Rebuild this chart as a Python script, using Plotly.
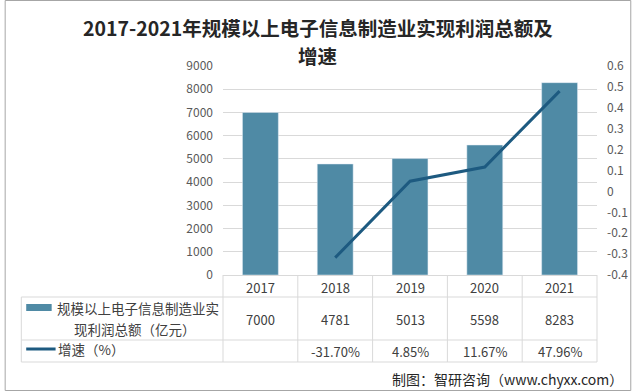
import plotly.graph_objects as go

years = ["2017", "2018", "2019", "2020", "2021"]
profit = [7000, 4781, 5013, 5598, 8283]
growth = [None, -0.317, 0.0485, 0.1167, 0.4796]
growth_labels = ["", "-31.70%", "4.85%", "11.67%", "47.96%"]
left_ticks = [0, 1000, 2000, 3000, 4000, 5000, 6000, 7000, 8000, 9000]
right_ticks = [-0.4, -0.3, -0.2, -0.1, 0, 0.1, 0.2, 0.3, 0.4, 0.5, 0.6]
right_labels = ["-0.4", "-0.3", "-0.2", "-0.1", "0", "0.1", "0.2", "0.3", "0.4", "0.5", "0.6"]
title_l1 = "2017-2021年规模以上电子信息制造业实现利润总额及"
title_l2 = "增速"
bar_name_l1 = "规模以上电子信息制造业实"
bar_name_l2 = "现利润总额（亿元）"
line_name = "增速（%）"
source = "制图：智研咨询（www.chyxx.com）"

BAR_C = "#4f8aa5"
LINE_C = "#1d5a80"
GRID_C = "#d9d9d9"
TXT_C = "#595959"
FONT = "Noto Sans CJK SC"

W, H = 640, 391
L, R, T, B = 223, 605, 66, 275


def px(x):
    return (x - L) / (R - L)


def py(y):
    return (B - y) / (B - T)


fig = go.Figure()
fig.add_trace(go.Bar(x=years, y=profit, marker_color=BAR_C, width=0.48, showlegend=False))
fig.add_trace(go.Scatter(x=years, y=growth, yaxis="y2", mode="lines",
                         line=dict(color=LINE_C, width=3), showlegend=False))

ann = []
ann.append(dict(text="<b>" + title_l1 + "</b>", x=px(320), xref="paper", y=py(28), yref="paper",
                showarrow=False, font=dict(size=19.5, color="#262626", family=FONT), xanchor="center", yanchor="middle"))
ann.append(dict(text="<b>" + title_l2 + "</b>", x=px(320), xref="paper", y=py(55), yref="paper",
                showarrow=False, font=dict(size=19.5, color="#262626", family=FONT), xanchor="center", yanchor="middle"))

n = len(years)
for i, yr in enumerate(years):
    cx = px(L + (i + 0.5) * (R - L) / n)
    ann.append(dict(text=yr, x=cx, xref="paper", y=py(287), yref="paper", showarrow=False,
                    font=dict(size=13, color="#404040", family=FONT), xanchor="center", yanchor="middle"))
    ann.append(dict(text=str(profit[i]), x=cx, xref="paper", y=py(319), yref="paper", showarrow=False,
                    font=dict(size=13, color="#404040", family=FONT), xanchor="center", yanchor="middle"))
    if growth_labels[i]:
        ann.append(dict(text=growth_labels[i], x=cx, xref="paper", y=py(351), yref="paper", showarrow=False,
                        font=dict(size=13, color="#404040", family=FONT), xanchor="center", yanchor="middle"))

ann.append(dict(text=bar_name_l1, x=px(136), xref="paper", y=py(308), yref="paper", showarrow=False,
                font=dict(size=13.5, color="#404040", family=FONT), xanchor="center", yanchor="middle"))
ann.append(dict(text=bar_name_l2, x=px(133), xref="paper", y=py(329), yref="paper", showarrow=False,
                font=dict(size=13.5, color="#404040", family=FONT), xanchor="center", yanchor="middle"))
ann.append(dict(text=line_name, x=px(52), xref="paper", y=py(349), yref="paper", showarrow=False,
                font=dict(size=13.5, color="#404040", family=FONT), xanchor="left", yanchor="middle"))
ann.append(dict(text=source, x=px(634), xref="paper", y=py(379), yref="paper", showarrow=False,
                font=dict(size=14, color="#262626", family=FONT), xanchor="right", yanchor="middle"))

shapes = []
ln = dict(color=GRID_C, width=1)
for yv in (297, 340, 362):
    shapes.append(dict(type="line", xref="paper", yref="paper", x0=px(17), x1=px(R), y0=py(yv), y1=py(yv), line=ln))
shapes.append(dict(type="line", xref="paper", yref="paper", x0=px(17), x1=px(17), y0=py(297), y1=py(362), line=ln))
for i in range(n + 1):
    xv = L + i * (R - L) / n
    shapes.append(dict(type="line", xref="paper", yref="paper", x0=px(xv), x1=px(xv), y0=py(B), y1=py(362), line=ln))
# legend icons
shapes.append(dict(type="rect", xref="paper", yref="paper", x0=px(22), x1=px(48), y0=py(311), y1=py(304),
                   fillcolor=BAR_C, line=dict(width=0)))
shapes.append(dict(type="line", xref="paper", yref="paper", x0=px(22), x1=px(52), y0=py(349), y1=py(349),
                   line=dict(color=LINE_C, width=3)))
# outer border
shapes.append(dict(type="rect", xref="paper", yref="paper", x0=px(0.5), x1=px(639.5), y0=py(390.5), y1=py(0.5),
                   line=dict(color="#a6a6a6", width=1), fillcolor="rgba(0,0,0,0)"))

fig.update_layout(
    width=W, height=H,
    margin=dict(l=L, r=W - R, t=T, b=H - B, pad=0),
    paper_bgcolor="white", plot_bgcolor="white",
    font=dict(family=FONT, color=TXT_C),
    xaxis=dict(type="category", range=[-0.5, 4.5], showticklabels=False, showgrid=False,
               showline=True, linecolor=GRID_C, linewidth=1, ticks="", zeroline=False),
    yaxis=dict(range=[0, 9000], tickvals=left_ticks, showgrid=True, gridcolor=GRID_C, gridwidth=1,
               zeroline=False, showline=False, ticks="", ticklabelstandoff=9,
               tickfont=dict(size=12, color=TXT_C, family=FONT)),
    yaxis2=dict(range=[-0.4, 0.6], overlaying="y", side="right", tickvals=right_ticks, ticktext=right_labels,
                showgrid=False, zeroline=False, showline=False, ticks="", ticklabelstandoff=9,
                tickfont=dict(size=12, color=TXT_C, family=FONT)),
    annotations=ann,
    shapes=shapes,
)

fig.write_html("out.html")
